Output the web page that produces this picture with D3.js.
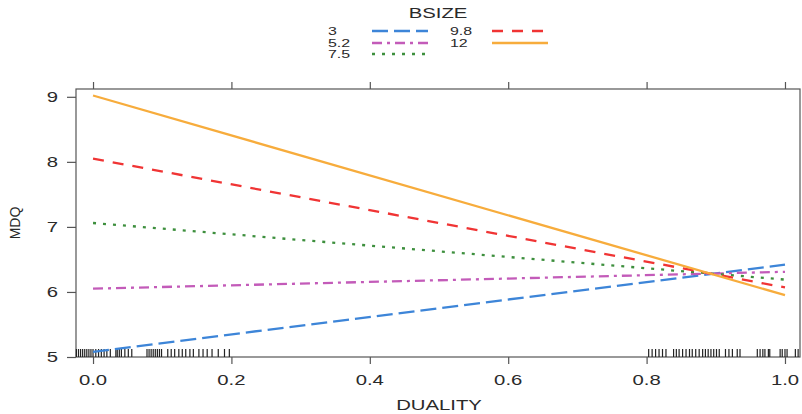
<!DOCTYPE html>
<html>
<head>
<meta charset="utf-8">
<script src="https://cdn.jsdelivr.net/npm/d3@7"></script>
<style>
  body { margin: 0; background: #fff; }
  svg text { font-family: "Liberation Sans", Arial, Helvetica, sans-serif; fill: #2a2a2a; }
</style>
</head>
<body>
<svg id="chart" width="802" height="414"></svg>
<script>
// BSIZE levels and fitted MDQ at DUALITY = 0 and 1
var sizes = ["3", "5.2", "7.5", "9.8", "12"];
var duality = [0, 1];
var mdq3 = [5.08, 6.42];
var mdq52 = [6.05, 6.31];
var mdq75 = [7.06, 6.19];
var mdq98 = [8.05, 6.07];
var mdq12 = [9.02, 5.95];

var xTicks = [0, 0.2, 0.4, 0.6, 0.8, 1.0];
var yTicks = [5, 6, 7, 8, 9];

// observed DUALITY values (rug, jittered)
var rugValues = [
    -0.024, -0.021, -0.018, -0.015, -0.012, -0.009, -0.006, -0.003, 0.0, 0.004, 0.008,
    0.012, 0.016, 0.020, 0.025, 0.033, 0.035, 0.038, 0.041, 0.046, 0.051, 0.056,
    0.078, 0.081, 0.084, 0.087, 0.090, 0.093, 0.096, 0.099,
    0.108, 0.113, 0.118, 0.124, 0.129, 0.134, 0.140, 0.145,
    0.153, 0.159, 0.165, 0.172, 0.181, 0.190, 0.197,
    0.803, 0.808, 0.813, 0.818, 0.823, 0.828,
    0.839, 0.843, 0.847, 0.852, 0.857, 0.862, 0.866,
    0.871, 0.876, 0.881, 0.885, 0.889, 0.893, 0.897, 0.901, 0.905,
    0.914, 0.919, 0.924, 0.931, 0.935,
    0.960, 0.964, 0.968, 0.971, 0.976, 0.978,
    0.993, 0.996, 1.000, 1.003, 1.015, 1.019
];

var series = [
    { name: sizes[0], values: mdq3, color: "#3d85d8", dash: "16,6" },
    { name: sizes[1], values: mdq52, color: "#c35bb9", dash: "10,5,3,5" },
    { name: sizes[2], values: mdq75, color: "#3d8f3d", dash: "3,7" },
    { name: sizes[3], values: mdq98, color: "#f03434", dash: "11,9" },
    { name: sizes[4], values: mdq12, color: "#f7ac3c", dash: null }
];

(function () {
    var svg = d3.select("#chart");
    var pLeft = 76, pRight = 800, pTop = 89, pBottom = 357;
    var stretch = 1.45; // the picture is wider than it is tall

    var x = d3.scaleLinear().domain([-0.0246, 1.0217]).range([pLeft, pRight]);
    var y = d3.scaleLinear().domain([5, 9.12]).range([pBottom, pTop]);

    // stretched horizontal text
    function label(px, py, str, size, anchor) {
        return svg.append("text")
            .attr("transform", "translate(" + px + "," + py + ") scale(" + stretch + ",1)")
            .attr("text-anchor", anchor)
            .attr("font-size", size)
            .text(str);
    }

    // panel border
    svg.append("rect")
        .attr("x", pLeft).attr("y", pTop)
        .attr("width", pRight - pLeft).attr("height", pBottom - pTop)
        .attr("fill", "none").attr("stroke", "#555").attr("stroke-width", 1.2);

    var xAxis = svg.append("g").attr("transform", "translate(0," + pBottom + ")")
        .call(d3.axisBottom(x).tickValues(xTicks).tickFormat("").tickSize(7));
    var xTop = svg.append("g").attr("transform", "translate(0," + pTop + ")")
        .call(d3.axisTop(x).tickValues(xTicks).tickFormat("").tickSize(7));
    var yAxis = svg.append("g").attr("transform", "translate(" + pLeft + ",0)")
        .call(d3.axisLeft(y).tickValues(yTicks).tickFormat("").tickSize(9));

    [xAxis, xTop, yAxis].forEach(function (g) {
        g.select(".domain").remove();
        g.selectAll(".tick line").attr("stroke", "#555").attr("stroke-width", 1.2);
        g.selectAll(".tick text").remove();
    });

    xTicks.forEach(function (d) {
        label(x(d), 385, d3.format(".1f")(d), 14, "middle");
    });
    yTicks.forEach(function (d) {
        label(58, y(d) + 5, d3.format("d")(d), 14, "end");
    });

    // rug
    svg.append("g").selectAll("line")
        .data(rugValues)
        .enter()
        .append("line")
        .attr("x1", function (d) { return x(d); })
        .attr("x2", function (d) { return x(d); })
        .attr("y1", pBottom - 8)
        .attr("y2", pBottom)
        .attr("stroke", "#222")
        .attr("stroke-width", 1.2);

    // effect lines
    var line = d3.line()
        .x(function (d, i) { return x(duality[i]); })
        .y(function (d) { return y(d); });

    svg.append("g").selectAll("path")
        .data(series)
        .enter()
        .append("path")
        .attr("d", function (s) { return line(s.values); })
        .attr("fill", "none")
        .attr("stroke", function (s) { return s.color; })
        .attr("stroke-width", 2.3)
        .attr("stroke-dasharray", function (s) { return s.dash; });

    // axis titles
    label(439, 410, "DUALITY", 14, "middle");

    svg.append("text")
        .attr("transform", "translate(20,223) rotate(-90)")
        .attr("text-anchor", "middle")
        .attr("font-size", 14)
        .text("MDQ");

    // legend
    label(438, 18, "BSIZE", 14, "middle");

    var legendPos = [
        { tx: 328, lx1: 372, lx2: 428, ty: 31 },
        { tx: 328, lx1: 372, lx2: 428, ty: 43 },
        { tx: 328, lx1: 372, lx2: 428, ty: 54 },
        { tx: 450, lx1: 492, lx2: 548, ty: 31 },
        { tx: 450, lx1: 492, lx2: 548, ty: 43 }
    ];

    series.forEach(function (s, i) {
        var p = legendPos[i];
        label(p.tx, p.ty + 4, s.name, 11, "start");
        svg.append("line")
            .attr("x1", p.lx1).attr("x2", p.lx2)
            .attr("y1", p.ty).attr("y2", p.ty)
            .attr("stroke", s.color)
            .attr("stroke-width", 2.3)
            .attr("stroke-dasharray", s.dash);
    });
})();
</script>
</body>
</html>
